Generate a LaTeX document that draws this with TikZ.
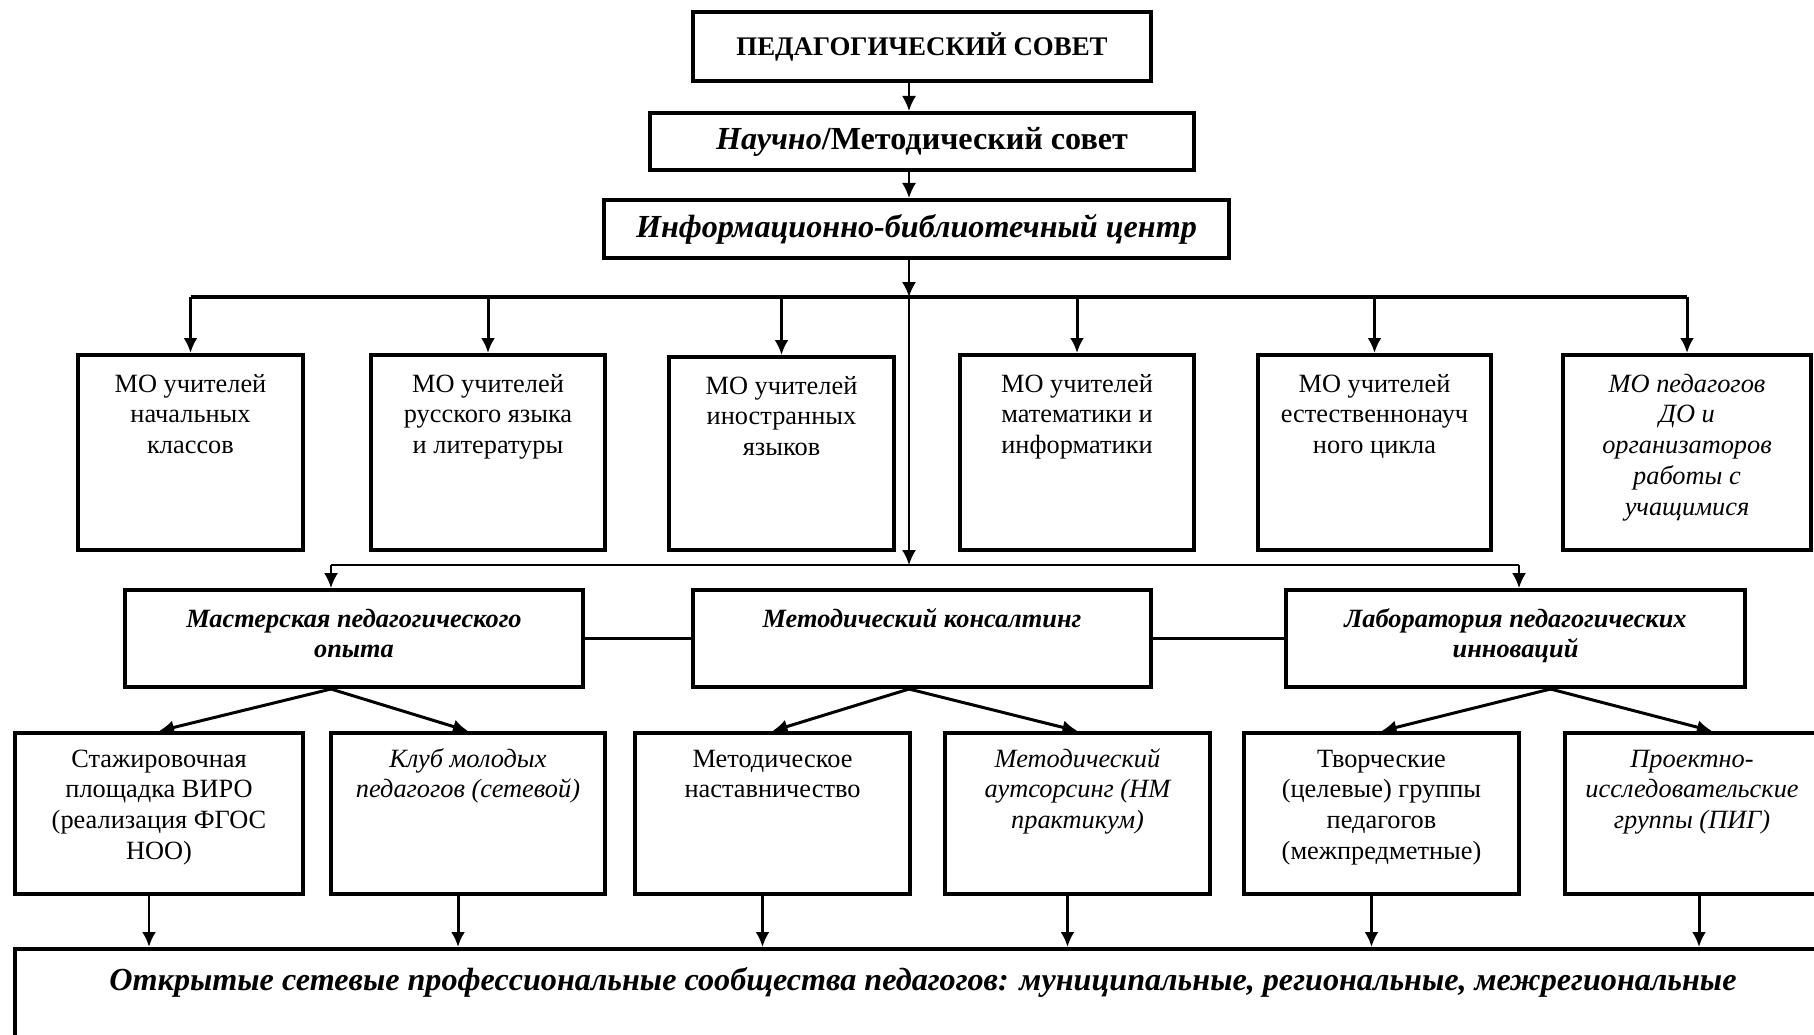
\documentclass[tikz,border=0pt]{standalone}
\usepackage{fontspec}
\setmainfont{Liberation Serif}
\usepackage{tikz}
\usetikzlibrary{arrows.meta}

\newcommand{\boxfont}{\fontsize{15}{17.6}\selectfont}
\newcommand{\bigboxfont}{\fontsize{18.3}{21}\selectfont}

\tikzset{
  box/.style={draw, line width=2.3pt, inner sep=0pt, align=flush center, font=\boxfont},
  topbox/.style={box, anchor=north, text height=#1},
  itbox/.style={font=\boxfont\itshape},
  bibox/.style={font=\boxfont\bfseries\itshape},
  bigbox/.style={font=\bigboxfont\bfseries},
  thinarr/.style={line width=1.1pt, -{Latex[length=0.3cm,width=0.28cm]}},
  thickarr/.style={line width=1.7pt, -{Latex[length=0.3cm,width=0.28cm]}},
  busline/.style={line width=2.2pt}
}

\begin{document}
\begin{tikzpicture}[x=0.02cm, y=-0.02cm]
\useasboundingbox (0,0) rectangle (1814,1034);

\node[box, minimum width=9.16cm, minimum height=1.38cm, font=\fontsize{15.3}{18}\selectfont\bfseries] (pedsovet) at (922,46.5) {ПЕДАГОГИЧЕСКИЙ СОВЕТ};
\node[box, bigbox, minimum width=10.88cm, minimum height=1.14cm] (nauchsovet) at (922,141.5) {\textit{Научно}/Методический совет};
\node[box, bigbox, minimum width=12.5cm, minimum height=1.16cm] (ibc) at (916.5,229) {\itshape Информационно-библиотечный центр};

\coordinate (bus) at (909,297);
\coordinate (busl) at (331,565);
\coordinate (busr) at (1519,565);

\node[topbox=0.74cm, text depth=3.16cm, text width=4.5cm] (mo1) at (190.5,353) {МО учителей\\начальных\\классов};
\node[topbox=0.74cm, text depth=3.16cm, text width=4.68cm] (mo2) at (488,353) {МО учителей\\русского языка\\и литературы};
\node[topbox=0.74cm, text depth=3.12cm, text width=4.5cm] (mo3) at (781.5,355) {МО учителей\\иностранных\\языков};
\node[topbox=0.74cm, text depth=3.16cm, text width=4.68cm] (mo4) at (1077,353) {МО учителей\\математики и\\информатики};
\node[topbox=0.74cm, text depth=3.16cm, text width=4.66cm] (mo5) at (1374.5,353) {МО учителей\\естественнонауч\\ного цикла};
\node[topbox=0.74cm, text depth=3.16cm, text width=4.96cm, itbox] (mo6) at (1687,353) {МО педагогов\\ДО и\\организаторов\\работы с\\учащимися};

\node[topbox=0.74cm, text depth=1.2cm, text width=9.16cm, bibox] (mas) at (354,588) {Мастерская педагогического\\опыта};
\node[topbox=0.74cm, text depth=1.2cm, text width=9.16cm, bibox] (kons) at (922,588) {Методический консалтинг};
\node[topbox=0.74cm, text depth=1.2cm, text width=9.18cm, bibox] (lab) at (1515.5,588) {Лаборатория педагогических\\инноваций};

\node[topbox=0.68cm, text depth=2.54cm, text width=5.76cm] (staz) at (159,731) {Стажировочная\\площадка ВИРО\\(реализация ФГОС\\НОО)};
\node[topbox=0.68cm, text depth=2.54cm, text width=5.48cm, itbox] (klub) at (468,731) {Клуб молодых\\педагогов (сетевой)};
\node[topbox=0.68cm, text depth=2.54cm, text width=5.5cm] (nast) at (772.5,731) {Методическое\\наставничество};
\node[topbox=0.68cm, text depth=2.54cm, text width=5.3cm, itbox] (auts) at (1077.5,731) {Методический\\аутсорсинг (НМ\\практикум)};
\node[topbox=0.68cm, text depth=2.54cm, text width=5.5cm] (tvor) at (1381.5,731) {Творческие\\(целевые) группы\\педагогов\\(межпредметные)};
\node[topbox=0.68cm, text depth=2.54cm, text width=5.1cm, itbox] (pig) at (1692,731) {Проектно-\\исследовательские\\группы (ПИГ)};

\node[topbox=0.82cm, text depth=2.4cm, text width=36.32cm, font=\bigboxfont\bfseries\itshape] (obsh) at (923,947) {Открытые сетевые профессиональные сообщества педагогов: муниципальные, региональные, межрегиональные};

\draw[thinarr] (pedsovet.south -| bus) -- (nauchsovet.north -| bus);
\draw[thinarr] (nauchsovet.south -| bus) -- (ibc.north -| bus);
\draw[thinarr] (ibc.south -| bus) -- (bus);
\draw[thinarr] (bus) -- (bus |- busl);

\draw[busline] (mo1.north |- bus) -- (mo6.north |- bus);
\foreach \m in {mo1,mo2,mo3,mo4,mo5,mo6}
  \draw[thickarr] (\m.north |- bus) -- (\m.north);

\draw[line width=1.1pt] (busl) -- (busr);
\draw[thinarr] (busl) -- (busl |- mas.north);
\draw[thinarr] (busr) -- (busr |- lab.north);

\draw[busline] (mas.east) -- (kons.west);
\draw[busline] (kons.east) -- (lab.west);

\draw[thickarr] (busl |- mas.south) -- (staz.north);
\draw[thickarr] (busl |- mas.south) -- (klub.north);
\draw[thickarr] (bus |- kons.south) -- (nast.north);
\draw[thickarr] (bus |- kons.south) -- (auts.north);
\draw[thickarr] ([xshift=0.7cm]lab.south) -- (tvor.north);
\draw[thickarr] ([xshift=0.7cm]lab.south) -- ([xshift=0.4cm]pig.north);

\foreach \r in {staz,klub,nast,auts,tvor}
  \draw[thickarr] ([xshift=-0.2cm]\r.south) -- ([xshift=-0.2cm]\r.south |- obsh.north);
\draw[thickarr] ([xshift=0.14cm]pig.south) -- ([xshift=0.14cm]pig.south |- obsh.north);
\end{tikzpicture}
\end{document}
